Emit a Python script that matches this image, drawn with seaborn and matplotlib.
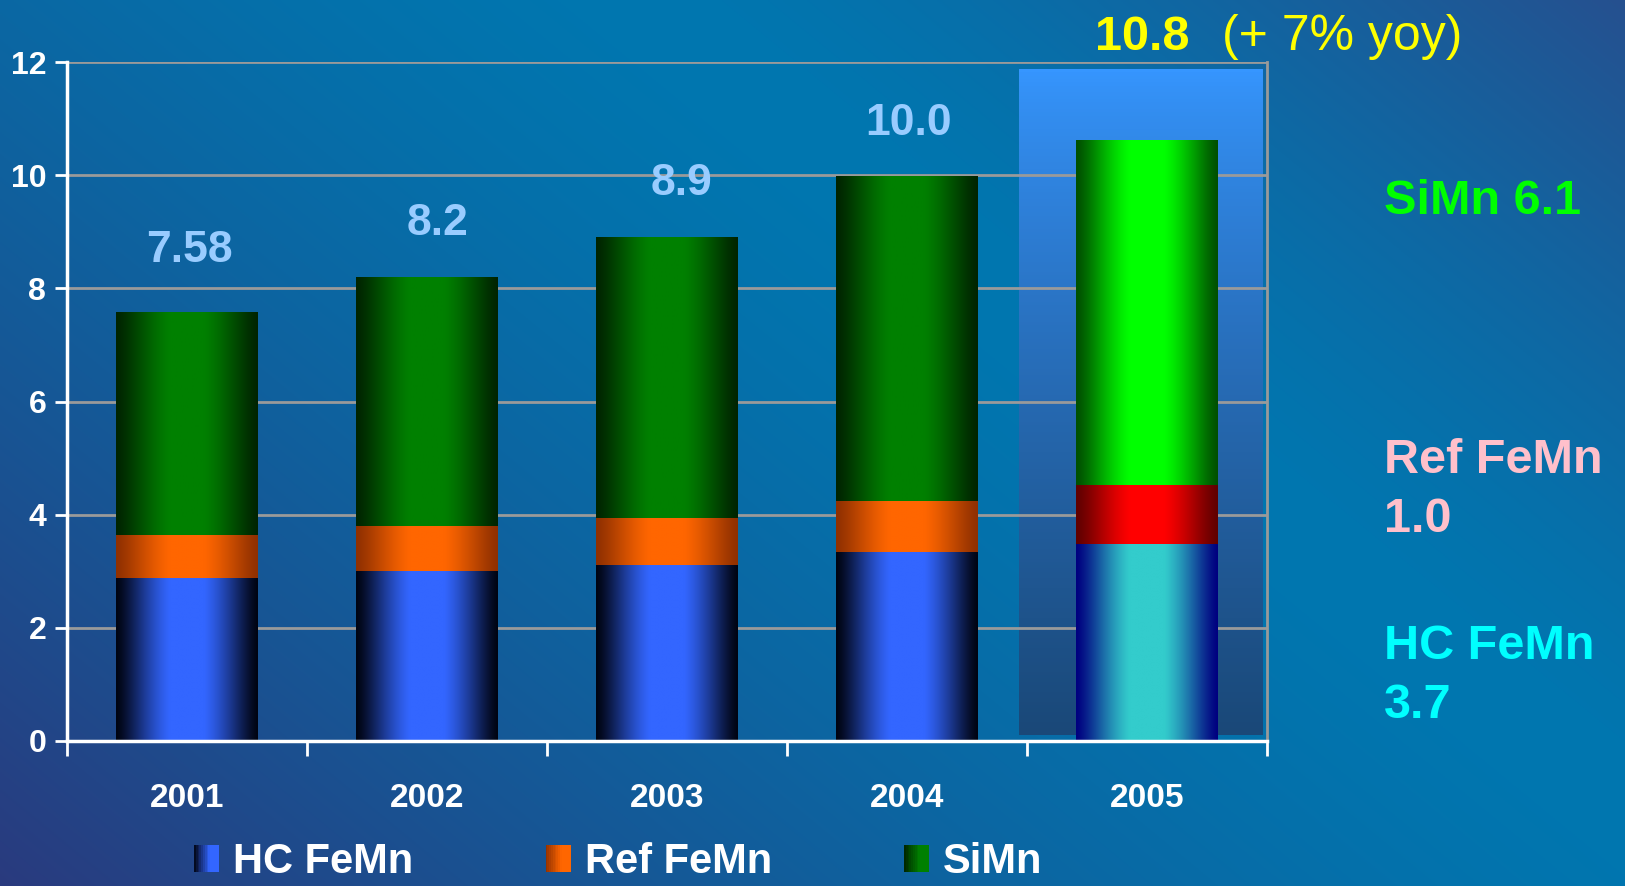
import numpy as np
import pandas as pd
import matplotlib
matplotlib.use("Agg")
import matplotlib.pyplot as plt
import seaborn as sns
from matplotlib.colors import to_rgb
from matplotlib.patches import Rectangle
from matplotlib.legend_handler import HandlerBase

# ---------------- data ----------------
years = ["2001", "2002", "2003", "2004", "2005"]
hc = [2.88, 3.00, 3.11, 3.33, 3.48]
ref = [0.75, 0.79, 0.83, 0.90, 1.03]
simn = [3.95, 4.41, 4.96, 5.74, 6.10]
total_labels = ["7.58", "8.2", "8.9", "10.0"]
highlight_label = "10.8"
highlight_note = "(+ 7% yoy)"
series_names = ["HC FeMn", "Ref FeMn", "SiMn"]
side_labels = ["SiMn 6.1", "Ref FeMn\n1.0", "HC FeMn\n3.7"]
yticks = [0, 2, 4, 6, 8, 10, 12]

sns.set_theme(style="white")
plt.rcParams['font.family'] = ['Liberation Sans', 'DejaVu Sans']
plt.rcParams['font.weight'] = 'bold'

W, H = 1625, 886
fig = plt.figure(figsize=(W / 100, H / 100), dpi=100)

# ---------------- background gradient ----------------
bg = fig.add_axes([0, 0, 1, 1], zorder=-10)
yy, xx = np.mgrid[0:H:2, 0:W:2]
ux, uy = 0.773, 0.634
d = (xx - 650) * uy - yy * ux
t = np.where(d > 0, d / 620, -d / 1100)
t = np.clip(t, 0, 1) ** 1.4
light = np.array(to_rgb('#0077B0'))
dark_pos = np.array(to_rgb('#26508F'))
dark_neg = np.array(to_rgb('#2A3A7E'))
dark = np.where((d > 0)[..., None], dark_pos, dark_neg)
img = light * (1 - t[..., None]) + dark * t[..., None]
bg.imshow(img, extent=[0, 1, 0, 1], aspect='auto', origin='upper')
bg.axis('off')

# ---------------- main axes ----------------
ax = fig.add_axes([67 / W, 1 - 741 / H, (1267 - 67) / W, (741 - 62) / H])
ax.patch.set_alpha(0)

df = pd.DataFrame({"year": years, "hc": hc, "ref": ref, "simn": simn})
df["c_ref"] = df["hc"] + df["ref"]
df["c_tot"] = df["c_ref"] + df["simn"]


def grad_row(edge, center, n=256):
    tt = np.linspace(0, 1, n)
    w = np.clip(np.sin(np.pi * tt) * 1.08, 0, 1) ** 1.3
    e = np.array(to_rgb(edge)); c = np.array(to_rgb(center))
    return (e[None, :] * (1 - w[:, None]) + c[None, :] * w[:, None])[None, :, :]


layers = [
    ("c_tot", ('#002400', '#008000'), ('#005000', '#00FF00'), 2.1),
    ("c_ref", ('#903000', '#FF6600'), ('#600000', '#FF0000'), 2.2),
    ("hc", ('#000412', '#3366FF'), ('#000080', '#33CCCC'), 2.3),
]
hl_index = years.index("2005")

for col, normal, special, z in layers:
    n0 = len(ax.patches)
    sns.barplot(data=df, x="year", y=col, ax=ax, width=0.59, color="k",
                errorbar=None)
    for i, p in enumerate(ax.patches[n0:]):
        p.set_facecolor('none'); p.set_edgecolor('none')
        edge, center = special if i == hl_index else normal
        x0, w_ = p.get_x(), p.get_width()
        y0, h_ = p.get_y(), p.get_height()
        ax.imshow(grad_row(edge, center), extent=[x0, x0 + w_, y0, y0 + h_],
                  aspect='auto', zorder=z, interpolation='bilinear')

# highlight box behind 2005
bx0, bx1 = hl_index - 0.535, hl_index + 0.48
by0, by1 = 0.10, 11.87
tv = np.linspace(0, 1, 200) ** 0.8
top_c = np.array(to_rgb('#3696FF')); bot_c = np.array(to_rgb('#1A4878'))
box = (top_c[None, :] * (1 - tv[:, None]) + bot_c[None, :] * tv[:, None])[:, None, :]
ax.imshow(box, extent=[bx0, bx1, by0, by1], aspect='auto', zorder=0.3,
          origin='upper')

ax.set_xlim(-0.5, 4.5)
ax.set_ylim(0, 12)
ax.set_axisbelow(True)
ax.yaxis.grid(True, color='#9A9A9A', lw=2)
ax.xaxis.grid(False)

for s in ['left', 'bottom']:
    ax.spines[s].set_color('white'); ax.spines[s].set_linewidth(2.5)
ax.spines['top'].set_visible(False)
ax.spines['right'].set_color('#9A9A9A'); ax.spines['right'].set_linewidth(2)

ax.set_yticks(yticks)
ax.set_yticklabels([str(v) for v in yticks])
ax.tick_params(axis='y', direction='out', length=9, width=2, color='white',
               labelcolor='white', labelsize=23, pad=6, left=True)
ax.set_xticks(np.arange(-0.5, 5, 1), minor=True)
ax.tick_params(axis='x', which='major', length=0, labelcolor='white',
               labelsize=24, pad=30)
ax.tick_params(axis='x', which='minor', direction='out', length=11, width=2,
               color='white', bottom=True)
for lbl in ax.get_xticklabels() + ax.get_yticklabels():
    lbl.set_fontweight('bold')
ax.set_xlabel('')
ax.set_ylabel('')

# total labels (label nudges in pixels)
label_dx = [2, 10, 14, 2]
label_dy = [50, 42, 42, 42]
for i, lab in enumerate(total_labels):
    ax.annotate(lab, (i, df["c_tot"][i]), xytext=(label_dx[i], label_dy[i]),
                textcoords='offset pixels', ha='center', va='baseline',
                color='#99CCFF', fontsize=32, fontweight='bold')

ax.annotate(highlight_label, (hl_index, df["c_tot"][hl_index]), xytext=(-52, 91),
            textcoords='offset pixels', ha='left', va='baseline',
            color='#FFFF00', fontsize=35, fontweight='bold', annotation_clip=False)
ax.annotate(highlight_note, (hl_index, df["c_tot"][hl_index]), xytext=(75, 91),
            textcoords='offset pixels', ha='left', va='baseline',
            color='#FFFF00', fontsize=36, fontweight='normal', annotation_clip=False)

# right-side annotations
side_colors = ['#00FF00', '#FFC0CB', '#00FFFF']
side_y = [1 - 201 / H, 1 - 490 / H, 1 - 676 / H]
for txt, c, yv in zip(side_labels, side_colors, side_y):
    fig.text(1384 / W, yv, txt, color=c, fontsize=35, fontweight='bold',
             ha='left', va='center', linespacing=1.4)


# legend with gradient keys
class GradHandler(HandlerBase):
    def __init__(self, edge, center):
        super().__init__()
        self.edge = np.array(to_rgb(edge)); self.center = np.array(to_rgb(center))

    def create_artists(self, legend, orig_handle, xdescent, ydescent, width,
                       height, fontsize, trans):
        n = 14
        arts = []
        for k in range(n):
            tt = (k + 0.5) / n
            w = min(1.0, tt * 1.6)
            c = self.edge * (1 - w) + self.center * w
            arts.append(Rectangle((-xdescent + width * k / n, -ydescent),
                                  width / n * 1.08, height, facecolor=c,
                                  edgecolor='none', transform=trans))
        return arts


handles = [Rectangle((0, 0), 1, 1) for _ in series_names]
hmap = {handles[0]: GradHandler('#000412', '#3366FF'),
        handles[1]: GradHandler('#903000', '#FF6600'),
        handles[2]: GradHandler('#002400', '#008000')}
fig.legend(handles, series_names, handler_map=hmap, loc='center',
           bbox_to_anchor=(0.3806, 0.027), ncol=3, frameon=False,
           prop={'size': 30, 'weight': 'bold'}, labelcolor='white',
           handlelength=0.6, handleheight=0.65, handletextpad=0.34,
           columnspacing=3.17)

fig.savefig("out.png", dpi=100)
